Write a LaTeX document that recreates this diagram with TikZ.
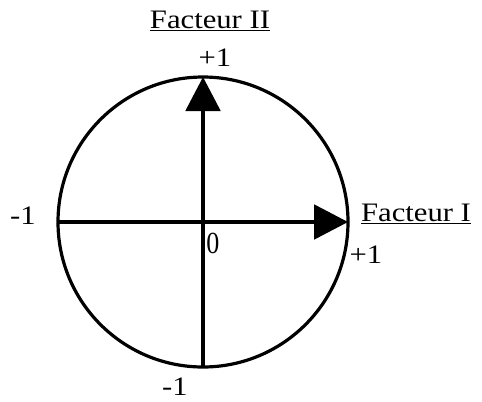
\documentclass[tikz,border=0pt]{standalone}
\usepackage{graphicx}
\usepackage{fontspec}
\setmainfont{Liberation Serif}
\usetikzlibrary{arrows.meta}
\tikzset{axe/.style={line width=2.4pt,-{Triangle[length=25.5pt,width=26pt]}},lbl/.style={inner sep=0pt,font=\fontsize{20}{24}\selectfont}}
\newcommand{\wide}[1]{\scalebox{1.15}[1]{#1}}
\begin{document}
\begin{tikzpicture}[x=0.75pt,y=-0.75pt]
\useasboundingbox (0,0) rectangle (482,401);
\coordinate (O) at (203,222);
\coordinate (L) at (58,222);
\coordinate (R) at (348,222);
\coordinate (B) at (203,367);
\coordinate (T) at (203,77);
\draw[line width=2.4pt] (O) circle[radius=145];
\draw[axe] (L)--(R);
\draw[axe] (B)--(T);
\node[lbl] (f2) at (210,21){\wide{\underline{Facteur II}}};
\node[lbl] (f1) at (416,214){\wide{\underline{Facteur I}}};
\node[lbl] (pt) at (215,58){\wide{+1}};
\node[lbl] (pr) at (366,255){\wide{+1}};
\node[lbl] (ml) at (23,216){\wide{-1}};
\node[lbl] (mb) at (175,387){\wide{-1}};
\node[lbl,font=\fontsize{23}{26}\selectfont] (z) at (213,243){\scalebox{0.85}[1]{0}};
\end{tikzpicture}
\end{document}
